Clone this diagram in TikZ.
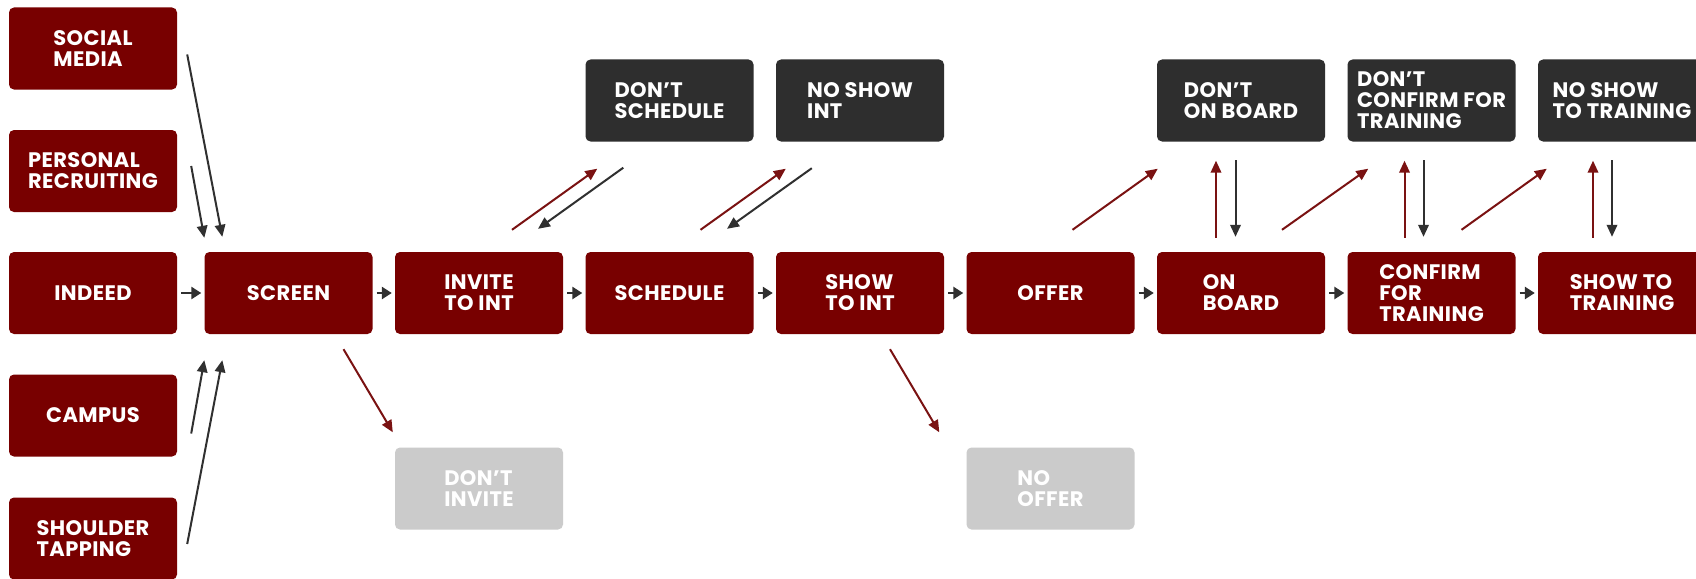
\documentclass[tikz,border=0pt]{standalone}
\usepackage{fontspec}
\setmainfont{Poppins}[LetterSpace=2]
\usetikzlibrary{arrows.meta}
\definecolor{boxred}{HTML}{780000}
\definecolor{boxdark}{HTML}{2E2E2E}
\definecolor{boxgray}{HTML}{CBCBCB}
\definecolor{arrdark}{HTML}{303030}
\definecolor{arrred}{HTML}{7A1212}
\begin{document}
\begin{tikzpicture}[x=1pt,y=-1pt,
  basebox/.style={rounded corners=5pt, minimum width=168pt, minimum height=82pt, inner sep=0pt, align=left, text=white, font=\bfseries\fontsize{21}{21}\selectfont},
  mbox/.style={basebox, fill=boxred},
  dbox/.style={basebox, fill=boxdark},
  gbox/.style={basebox, fill=boxgray},
  flowarr/.style={draw=arrdark, line width=2.6pt, -{Triangle[length=10pt,width=12pt]}},
  darkarr/.style={draw=arrdark, line width=2pt, -{Triangle[length=12pt,width=10.5pt]}},
  redarr/.style={draw=arrred, line width=2pt, -{Triangle[length=12pt,width=10.5pt]}},
]
\clip (0,0) rectangle (1696,578);
\fill[white] (0,0) rectangle (1696,578);
% left column
\node[mbox] (social) at (93,48.5) {SOCIAL\\MEDIA};
\node[mbox] (personal) at (93,171) {PERSONAL\\RECRUITING};
\node[mbox] (indeed) at (93,293) {INDEED};
\node[mbox] (campus) at (93,415.5) {CAMPUS};
\node[mbox] (shoulder) at (93,538.5) {SHOULDER\\TAPPING};
% main row
\node[mbox] (screen) at (288.5,293) {SCREEN};
\node[mbox] (invite) at (479,293) {INVITE\\TO INT};
\node[mbox] (sched) at (669.5,293) {SCHEDULE};
\node[mbox] (showint) at (860,293) {SHOW\\TO INT};
\node[mbox] (offer) at (1050.5,293) {OFFER};
\node[mbox] (onboard) at (1241,293) {ON\\BOARD};
\node[mbox] (confirm) at (1431.5,293) {CONFIRM\\FOR\\TRAINING};
\node[mbox] (showtrain) at (1622,293) {SHOW TO\\TRAINING};
% top row
\node[dbox] (dontsched) at (669.5,100.5) {DON’T\\SCHEDULE};
\node[dbox] (noshowint) at (860,100.5) {NO SHOW\\INT};
\node[dbox] (dontonboard) at (1241,100.5) {DON’T\\ON BOARD};
\node[dbox] (dontconfirm) at (1431.5,100.5) {DON’T\\CONFIRM FOR\\TRAINING};
\node[dbox] (noshowtrain) at (1622,100.5) {NO SHOW\\TO TRAINING};
% bottom row
\node[gbox] (dontinvite) at (479,488.5) {DON’T\\INVITE};
\node[gbox] (nooffer) at (1050.5,488.5) {NO\\OFFER};
% flow arrows
\draw[flowarr] ([xshift=4pt]indeed.east) -- ([xshift=-3pt]screen.west);
\draw[flowarr] ([xshift=4pt]screen.east) -- ([xshift=-3pt]invite.west);
\draw[flowarr] ([xshift=4pt]invite.east) -- ([xshift=-3pt]sched.west);
\draw[flowarr] ([xshift=4pt]sched.east) -- ([xshift=-3pt]showint.west);
\draw[flowarr] ([xshift=4pt]showint.east) -- ([xshift=-3pt]offer.west);
\draw[flowarr] ([xshift=4pt]offer.east) -- ([xshift=-3pt]onboard.west);
\draw[flowarr] ([xshift=4pt]onboard.east) -- ([xshift=-3pt]confirm.west);
\draw[flowarr] ([xshift=4pt]confirm.east) -- ([xshift=-3pt]showtrain.west);
% sources into screen
\draw[darkarr] ([xshift=10pt,yshift=-6pt]social.east) -- ([xshift=18pt,yshift=15pt]screen.north west);
\draw[darkarr] ([xshift=14pt,yshift=5pt]personal.east) -- ([xshift=0pt,yshift=14pt]screen.north west);
\draw[darkarr] ([xshift=14pt,yshift=-18pt]campus.east) -- ([xshift=0pt,yshift=-26pt]screen.south west);
\draw[darkarr] ([xshift=10pt,yshift=-5.5pt]shoulder.east) -- ([xshift=18pt,yshift=-26pt]screen.south west);
% drop-outs below
\draw[redarr] ([xshift=55pt,yshift=-15pt]screen.south) -- ([xshift=-2pt,yshift=15pt]dontinvite.north west);
\draw[redarr] ([xshift=30pt,yshift=-15pt]showint.south) -- ([xshift=-27pt,yshift=15pt]nooffer.north west);
% drop-outs above (diagonal)
\draw[redarr] ([xshift=33pt,yshift=22pt]invite.north) -- ([xshift=12pt,yshift=-27pt]dontsched.south west);
\draw[darkarr] ([xshift=38pt,yshift=-26pt]dontsched.south west) -- ([xshift=59pt,yshift=23pt]invite.north);
\draw[redarr] ([xshift=31pt,yshift=22pt]sched.north) -- ([xshift=10pt,yshift=-27pt]noshowint.south west);
\draw[darkarr] ([xshift=36pt,yshift=-26.5pt]noshowint.south west) -- ([xshift=57.5pt,yshift=23pt]sched.north);
\draw[redarr] ([xshift=22pt,yshift=22pt]offer.north) -- ([xshift=1pt,yshift=-27pt]dontonboard.south west);
\draw[redarr] ([xshift=41pt,yshift=22pt]onboard.north) -- ([xshift=21pt,yshift=-27pt]dontconfirm.south west);
\draw[redarr] ([xshift=30pt,yshift=22pt]confirm.north) -- ([xshift=9pt,yshift=-27pt]noshowtrain.south west);
% vertical pairs
\draw[redarr] ([xshift=-25pt,yshift=14pt]onboard.north) -- ([xshift=-25pt,yshift=-19pt]dontonboard.south);
\draw[darkarr] ([xshift=-5.5pt,yshift=-18.5pt]dontonboard.south) -- ([xshift=-5.5pt,yshift=15pt]onboard.north);
\draw[redarr] ([xshift=-27pt,yshift=14pt]confirm.north) -- ([xshift=-27pt,yshift=-19pt]dontconfirm.south);
\draw[darkarr] ([xshift=-8pt,yshift=-18.5pt]dontconfirm.south) -- ([xshift=-8pt,yshift=15pt]confirm.north);
\draw[redarr] ([xshift=-29pt,yshift=14pt]showtrain.north) -- ([xshift=-29pt,yshift=-19pt]noshowtrain.south);
\draw[darkarr] ([xshift=-10pt,yshift=-18.5pt]noshowtrain.south) -- ([xshift=-10pt,yshift=15pt]showtrain.north);
\end{tikzpicture}
\end{document}
